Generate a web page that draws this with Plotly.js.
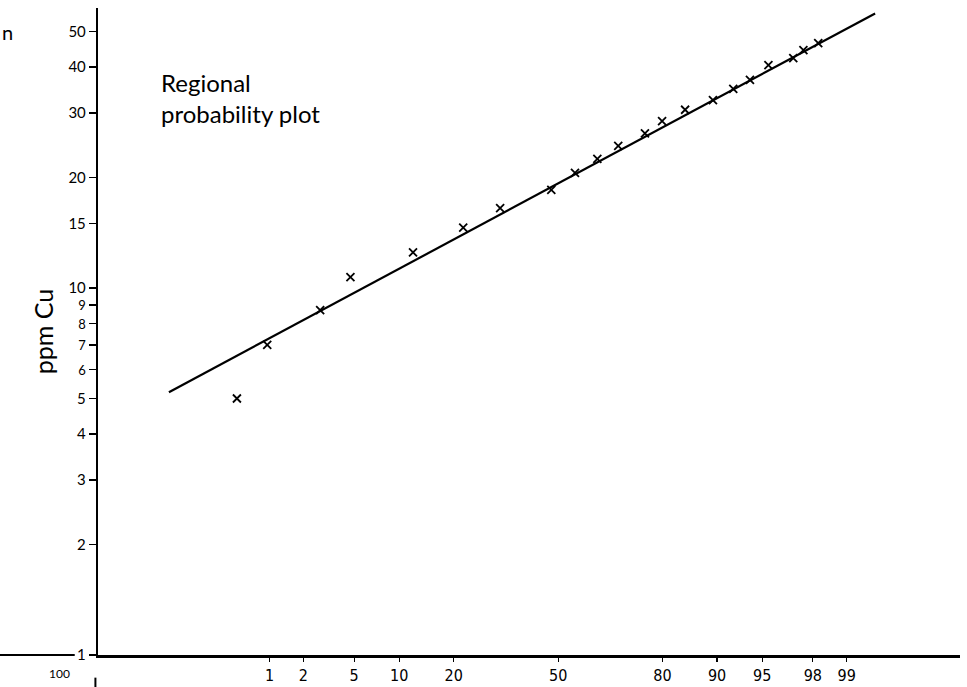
<!DOCTYPE html>
<html>
<head>
<meta charset="utf-8">
<script src="https://cdn.plot.ly/plotly-3.0.1.min.js"></script>
<style>
html,body{margin:0;padding:0;background:#fff;}
#chart{width:967px;height:687px;}
</style>
</head>
<body>
<div id="chart"></div>
<script>
// Cumulative frequency (%) and copper (ppm) of the regional samples
const cumPercent = [0.48, 0.95, 2.75, 4.7, 12.1, 22.2, 32, 47.8, 55.4, 62.4, 68.6, 75.8, 79.9, 84.7, 89.4, 92.1, 93.9, 95.5, 97.1, 97.6, 98.2];
const ppmCu      = [5.0, 7.0, 8.7, 10.7, 12.5, 14.6, 16.5, 18.5, 20.6, 22.5, 24.4, 26.4, 28.5, 30.6, 32.5, 34.9, 36.9, 40.5, 42.3, 44.5, 46.5];
// Fitted line end points
const fitPercent = [0.085, 99.47];
const fitPpm     = [5.2, 56];
// Axis ticks
const xTickPercent = [1, 2, 5, 10, 20, 50, 80, 90, 95, 98, 99];
const yTickVals = [1, 2, 3, 4, 5, 6, 7, 8, 9, 10, 15, 20, 30, 40, 50];
const yTickSmall = [6, 7, 8, 9];

// Probability-axis scale: inverse standard normal CDF (Acklam)
function probit(pct){
  const p = pct/100;
  const a=[-3.969683028665376e+01,2.209460984245205e+02,-2.759285104469687e+02,1.383577518672690e+02,-3.066479806614716e+01,2.506628277459239e+00];
  const b=[-5.447609879822406e+01,1.615858368580409e+02,-1.556989798598866e+02,6.680131188771972e+01,-1.328068155288572e+01];
  const c=[-7.784894002430293e-03,-3.223964580411365e-01,-2.400758277161838e+00,-2.549732539343734e+00,4.374664141464968e+00,2.938163982698783e+00];
  const d=[7.784695709041462e-03,3.224671290700398e-01,2.445134137142996e+00,3.754408661907416e+00];
  const pl=0.02425, ph=1-pl;
  let q,r;
  if(p<pl){q=Math.sqrt(-2*Math.log(p));return (((((c[0]*q+c[1])*q+c[2])*q+c[3])*q+c[4])*q+c[5])/((((d[0]*q+d[1])*q+d[2])*q+d[3])*q+1);}
  if(p>ph){q=Math.sqrt(-2*Math.log(1-p));return -(((((c[0]*q+c[1])*q+c[2])*q+c[3])*q+c[4])*q+c[5])/((((d[0]*q+d[1])*q+d[2])*q+d[3])*q+1);}
  q=p-0.5;r=q*q;
  return (((((a[0]*r+a[1])*r+a[2])*r+a[3])*r+a[4])*r+a[5])*q/(((((b[0]*r+b[1])*r+b[2])*r+b[3])*r+b[4])*r+1);
}

const font = "Lato, 'DejaVu Sans', sans-serif";

const traces = [
  {
    x: fitPercent.map(probit), y: fitPpm,
    mode: 'lines', type: 'scatter',
    line: {color: '#000', width: 2.2},
    hoverinfo: 'skip', showlegend: false
  },
  {
    x: cumPercent.map(probit), y: ppmCu,
    mode: 'markers', type: 'scatter',
    marker: {symbol: 'x-thin', size: 8, color: '#000', line: {color: '#000', width: 1.8}},
    showlegend: false
  }
];

const layout = {
  width: 967, height: 687,
  margin: {l: 98, r: 7, t: 8, b: 32},
  paper_bgcolor: '#fff', plot_bgcolor: '#fff',
  font: {family: font, color: '#000'},
  xaxis: {
    range: [-3.71, 3.24],
    tickvals: xTickPercent.map(probit),
    ticktext: xTickPercent.map(String),
    ticks: 'outside', ticklen: 4, tickwidth: 1.2, tickcolor: '#000',
    showline: true, linecolor: '#000', linewidth: 2.5,
    showgrid: false, zeroline: false,
    tickfont: {family: "'Liberation Sans Narrow', 'DejaVu Sans Condensed', sans-serif", size: 16, color: '#000'}
  },
  yaxis: {
    type: 'log',
    range: [0, 1.763],
    tickvals: yTickVals,
    ticktext: yTickVals.map(v => yTickSmall.includes(v) ? '<span style="font-size:13px">' + v + '</span>' : String(v)),
    ticks: 'outside', ticklen: 7, tickwidth: 1.5, tickcolor: '#000',
    showline: true, linecolor: '#000', linewidth: 2.2,
    showgrid: false, zeroline: false,
    tickfont: {family: font, size: 15, color: '#000'},
    title: {text: 'ppm Cu', font: {family: font, size: 25, color: '#000'}, standoff: 8}
  },
  annotations: [
    {
      text: 'Regional<br>probability plot',
      xref: 'paper', yref: 'paper', x: 0.071, y: 0.91,
      xanchor: 'left', yanchor: 'top', align: 'left', showarrow: false,
      font: {family: font, size: 24, color: '#000'}
    },
    {
      text: 'n', xref: 'paper', yref: 'paper', x: -0.114, y: 0.985,
      xanchor: 'left', yanchor: 'top', showarrow: false,
      font: {family: font, size: 20, color: '#000'}
    },
    {
      text: '100', xref: 'paper', yref: 'paper', x: -0.03, y: -0.014,
      xanchor: 'right', yanchor: 'top', showarrow: false,
      font: {family: font, size: 12, color: '#000'}
    }
  ],
  shapes: [
    {type: 'line', xref: 'paper', yref: 'paper', x0: -0.114, x1: -0.027, y0: 0, y1: 0,
     line: {color: '#000', width: 2}},
    {type: 'line', xref: 'paper', yref: 'paper', x0: -0.003, x1: -0.003, y0: -0.035, y1: -0.06,
     line: {color: '#000', width: 2}}
  ]
};

Plotly.newPlot('chart', traces, layout, {displayModeBar: false, staticPlot: true});
</script>
</body>
</html>
